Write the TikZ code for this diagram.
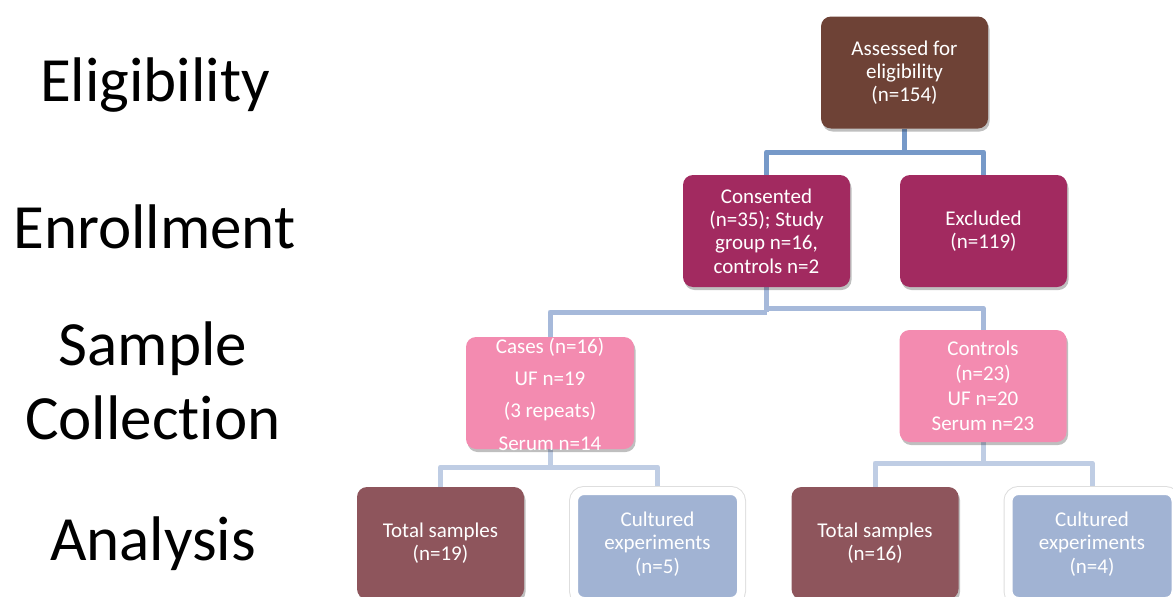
\documentclass[tikz,border=0pt]{standalone}
\usepackage{fontspec}
\setmainfont{Carlito}[Ligatures={NoCommon}]
\usetikzlibrary{shadows,calc,backgrounds}
\definecolor{cAssess}{HTML}{6E4236}
\definecolor{cEnroll}{HTML}{A22A60}
\definecolor{cSample}{HTML}{F38BB0}
\definecolor{cTotal}{HTML}{8E555C}
\definecolor{cCult}{HTML}{A1B3D3}
\definecolor{cLineA}{HTML}{7699C8}
\definecolor{cLineB}{HTML}{A6B9DA}
\definecolor{cLineC}{HTML}{BFCDE4}
\tikzset{
  box/.style={rounded corners=10pt, minimum width=167pt, minimum height=112pt,
    inner sep=0pt, align=center, text=white,
    font=\fontsize{21}{23.3}\selectfont,
    drop shadow={shadow xshift=1.5pt, shadow yshift=-3pt, opacity=0.25, fill=black}},
  cultbox/.style={rounded corners=10pt, minimum width=167pt, minimum height=110pt,
    inner sep=0pt, fill=cCult, draw=white, line width=8pt,
    preaction={draw=black!13, line width=10pt}},
  boxtext/.style={align=center, text=white, inner sep=0pt, font=\fontsize{21}{23.3}\selectfont},
  stage/.style={font=\fontsize{63}{74}\selectfont, anchor=base, inner sep=0pt},
  connA/.style={draw=cLineA, line width=5pt, line join=round},
  connB/.style={draw=cLineB, line width=5pt, line join=round},
  connC/.style={draw=cLineC, line width=5pt, line join=round},
}
\begin{document}
\begin{tikzpicture}[x=1pt,y=-1pt]
\useasboundingbox (0,0) rectangle (1173,597);
% stage labels
\node[stage] (elig) at (155,101) {Eligibility};
\node[stage] (enrol) at (154.5,248) {Enrollment};
\node[stage] (sample) at (153,365) {Sample};
\node[stage] (collect) at (153,439) {Collection};
\node[stage] (analysis) at (153,560) {Analysis};
% junction points
\coordinate (j1) at (904.5,152);
\coordinate (j2) at (766.5,312);
\coordinate (j3) at (550,467);
\coordinate (j4) at (983,463);
% boxes
\node[box, fill=cAssess] (assessed) at (904.5,72.5) {Assessed for\\eligibility\\(n=154)};
\node[box, fill=cEnroll] (consented) at (766.5,231) {Consented\\(n=35); Study\\group n=16,\\controls n=2};
\node[box, fill=cEnroll] (excluded) at (983.5,231) {Excluded\\(n=119)};
\node[box, fill=cSample, minimum width=168pt] (cases) at (550,393) {};
\node[boxtext, font=\fontsize{21}{32.3}\selectfont] (casesT) at (550,394) {Cases (n=16)\\UF n=19\\(3 repeats)\\Serum n=14};
\node[box, fill=cSample, font=\fontsize{21}{25}\selectfont] (controls) at (983,386) {Controls\\(n=23)\\UF n=20\\Serum n=23};
\node[box, fill=cTotal] (totalL) at (440.5,543) {Total samples\\(n=19)};
\node[cultbox] (cultL) at (657.5,546) {};
\node[boxtext] (cultLT) at (657.5,544) {Cultured\\experiments\\(n=5)};
\node[box, fill=cTotal] (totalR) at (875,543) {Total samples\\(n=16)};
\node[cultbox] (cultR) at (1092,546) {};
\node[boxtext] (cultRT) at (1092,544) {Cultured\\experiments\\(n=4)};
% connectors
\begin{scope}[on background layer]
\draw[connA] (assessed.south) -- (j1);
\draw[connA] (consented.north) |- (j1) -| (excluded.north);
\draw[connB] (consented.south) -- (j2);
\draw[connB] (cases.north) |- (j2);
\draw[connB] (j2) -- ++(0,-4) coordinate (j2b) -| (controls.north);
\draw[connC] (cases.south) -- (j3);
\draw[connC] (totalL.north) |- (j3) -| (cultL.north);
\draw[connC] (controls.south) -- (j4);
\draw[connC] (totalR.north) |- (j4) -| (cultR.north);
\end{scope}
\end{tikzpicture}
\end{document}
